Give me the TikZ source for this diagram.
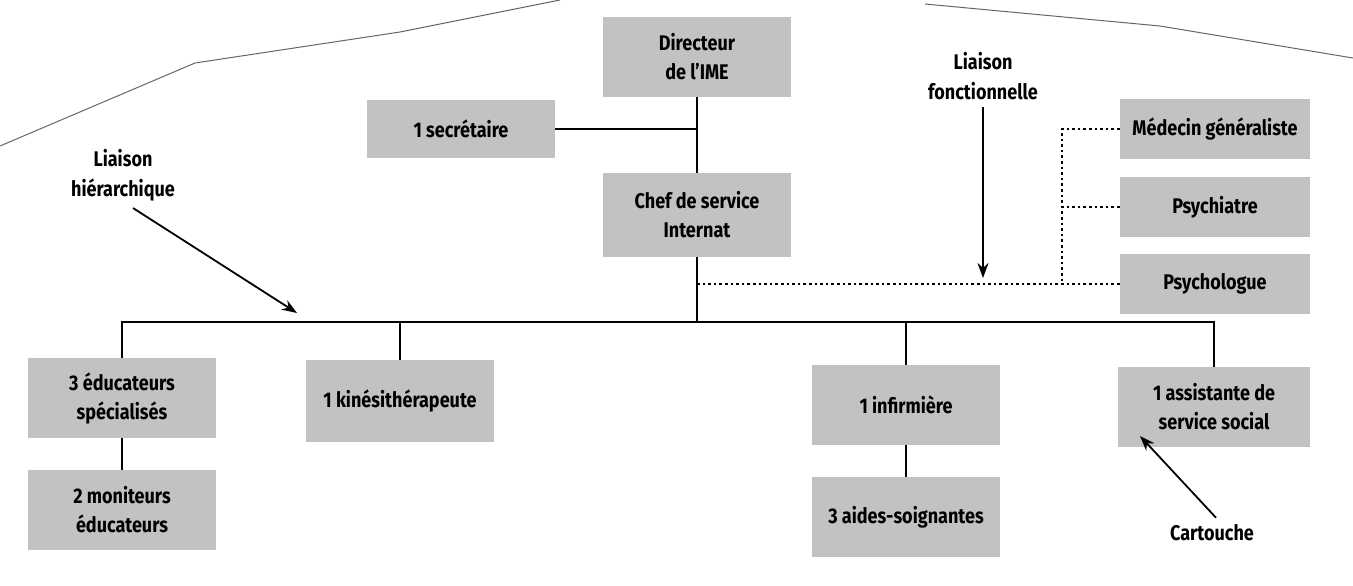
\documentclass[tikz,border=0pt]{standalone}
\usepackage{fontspec}
\setmainfont{Fira Sans}[FakeStretch=0.85]
\usetikzlibrary{arrows.meta,positioning}

\begin{document}
\begin{tikzpicture}[x=.5pt,y=-.5pt,
    poste/.style={fill=black!24,minimum width=94pt,minimum height=40pt,inner sep=0pt,
      align=center,font=\bfseries\fontsize{10.6}{14.5}\selectfont},
    lien/.style={line width=1.3pt},
    fonct/.style={line width=1.4pt,dash pattern=on 1.3pt off 1.5pt},
    fleche/.style={line width=.9pt,-{Stealth[length=7.5pt,width=5.5pt]}},
    legende/.style={align=center,font=\bfseries\fontsize{10.6}{15}\selectfont}]
  \useasboundingbox (0,0) rectangle (1353,585);

  % bords de la feuille
  \draw[black!60,line width=.5pt] (0,146)--(195,63)--(400,32)--(560,0);
  \draw[black!60,line width=.5pt] (925,4)--(1160,26)--(1353,58);

  \node[poste] (dir) at (697,57) {Directeur\\de l’IME};
  \node[poste,minimum height=29pt] (sec) at (461,129) {1 secrétaire};
  \node[poste,minimum height=42pt] (chef) at (697,215) {Chef de service\\Internat};

  \node[poste,minimum width=95pt,minimum height=30pt] (med) at (1215,129) {Médecin généraliste};
  \node[poste,minimum width=95pt,minimum height=30pt] (psychiatre) at (1215,207) {Psychiatre};
  \node[poste,minimum width=95pt,minimum height=30pt] (psychologue) at (1215,284) {Psychologue};

  \node[poste] (edu) at (122,398) {3 éducateurs\\spécialisés};
  \node[poste] (mon) at (122,510) {2 moniteurs\\éducateurs};
  \node[poste,minimum height=41pt] (kine) at (400,401) {1 kinésithérapeute};
  \node[poste] (inf) at (906,405) {1 infirmière};
  \node[poste] (aides) at (906,517) {3 aides-soignantes};
  \node[poste,minimum width=96pt] (assist) at (1214,407) {1 assistante de\\service social};

  % liaisons hierarchiques
  \coordinate (barre) at (697,322);
  \draw[lien] (dir) -- (chef);
  \draw[lien] (sec) -- (sec -| dir);
  \draw[lien] (chef) -- (chef |- barre);
  \draw[lien] (edu.north) |- (assist.north |- barre) -- (assist.north);
  \foreach \n in {kine,inf}
    \draw[lien] (\n.north) -- (\n.north |- barre);
  \draw[lien] (edu) -- (mon);
  \draw[lien] (inf) -- (aides);

  % liaisons fonctionnelles
  \coordinate (coude) at (1062,284);
  \draw[fonct] (chef |- psychologue.west) -- (psychologue.west);
  \draw[fonct] (med.west) -| (coude);
  \draw[fonct] (psychiatre.west) -- (psychiatre.west -| coude);

  % legendes
  \node[legende] (lh) at (123,175) {Liaison\\hiérarchique};
  \node[legende] (lf) at (983,76) {Liaison\\fonctionnelle};
  \node[legende] (cart) at (1212,533) {Cartouche};
  \coordinate (lh-pointe) at (297,313);
  \coordinate (lf-pointe) at (983,278);
  \coordinate (cart-pointe) at (1140,436);
  \draw[fleche] ([xshift=5pt]lh.south) -- (lh-pointe);
  \draw[fleche] (lf.south) -- (lf-pointe);
  \draw[fleche] ([xshift=2pt]cart.north) -- (cart-pointe);
\end{tikzpicture}
\end{document}
